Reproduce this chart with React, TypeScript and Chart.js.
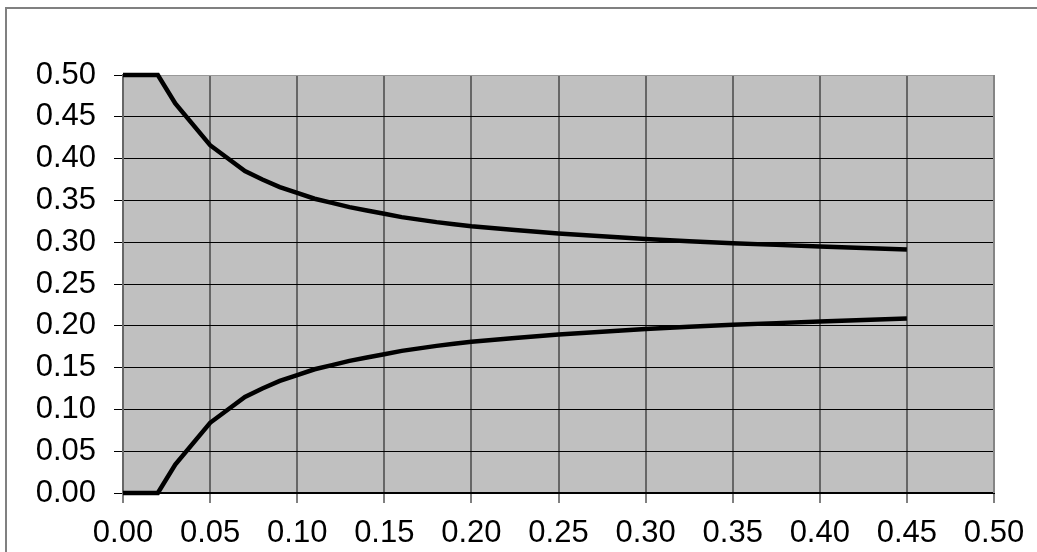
import React, { useEffect, useRef } from 'react';
import { Chart, registerables } from 'chart.js';

Chart.register(...registerables);

const xValues = [0, 0.02, 0.03, 0.05, 0.07, 0.08, 0.09, 0.10, 0.11, 0.12, 0.13, 0.14, 0.15, 0.16, 0.17, 0.18, 0.19, 0.20, 0.225, 0.25, 0.275, 0.30, 0.325, 0.35, 0.375, 0.40, 0.425, 0.45];
const upperValues = [0.5, 0.5, 0.466, 0.416, 0.385, 0.375, 0.366, 0.359, 0.352, 0.347, 0.342, 0.338, 0.334, 0.330, 0.327, 0.324, 0.3215, 0.319, 0.3145, 0.3105, 0.307, 0.3038, 0.301, 0.2988, 0.2968, 0.2948, 0.293, 0.2913];
const lowerValues = [0, 0, 0.034, 0.084, 0.115, 0.125, 0.134, 0.141, 0.148, 0.153, 0.158, 0.162, 0.166, 0.170, 0.173, 0.176, 0.1785, 0.181, 0.1855, 0.1895, 0.193, 0.1962, 0.199, 0.2012, 0.2032, 0.2052, 0.207, 0.2087];
const axisMin = 0;
const axisMax = 0.5;
const axisStep = 0.05;

const frame = {
  id: 'frame',
  beforeDraw(chart: any) {
    const { ctx, chartArea: a } = chart;
    ctx.save();
    ctx.fillStyle = '#C0C0C0';
    ctx.fillRect(a.left, a.top, a.right - a.left, a.bottom - a.top);
    ctx.strokeStyle = '#808080';
    ctx.lineWidth = 2;
    ctx.strokeRect(6, 8, 1100, 600);
    ctx.restore();
  },
  beforeDatasetsDraw(chart: any) {
    const { ctx, chartArea: a } = chart;
    ctx.save();
    ctx.strokeStyle = '#999999';
    ctx.lineWidth = 1;
    ctx.beginPath();
    ctx.moveTo(a.left, a.top + 0.5);
    ctx.lineTo(a.right, a.top + 0.5);
    ctx.stroke();
    ctx.strokeStyle = '#858585';
    ctx.lineWidth = 2;
    ctx.beginPath();
    ctx.moveTo(a.right, a.top);
    ctx.lineTo(a.right, a.bottom);
    ctx.stroke();
    ctx.restore();
  },
};

export default function App() {
  const ref = useRef<HTMLCanvasElement>(null);
  useEffect(() => {
    if (!ref.current) return;
    const font = { family: '"Liberation Sans", Arial, sans-serif', size: 31 };
    const chart = new Chart(ref.current, {
      type: 'line',
      data: {
        datasets: [
          {
            data: xValues.map((x, i) => ({ x, y: upperValues[i] })),
            borderColor: '#000',
            borderWidth: 4.5,
            pointRadius: 0,
            tension: 0,
            clip: false as any,
          },
          {
            data: xValues.map((x, i) => ({ x, y: lowerValues[i] })),
            borderColor: '#000',
            borderWidth: 4.5,
            pointRadius: 0,
            tension: 0,
            clip: false as any,
          },
        ],
      },
      options: {
        animation: false,
        responsive: false,
        layout: { padding: { top: 75, right: 43, left: 0, bottom: 0 } },
        plugins: { legend: { display: false }, tooltip: { enabled: false } },
        scales: {
          x: {
            type: 'linear',
            min: axisMin,
            max: axisMax,
            afterFit: (s: any) => { s.height = 59; },
            ticks: {
              stepSize: axisStep,
              color: '#000',
              font,
              padding: 12,
              maxRotation: 0,
              autoSkip: false,
              callback: (v: any) => Number(v).toFixed(2),
            },
            grid: {
              color: '#666666',
              lineWidth: 2,
              tickColor: '#000',
              tickLength: 10,
              tickWidth: 1,
            },
            border: { color: '#000', width: 2 },
          },
          y: {
            type: 'linear',
            min: axisMin,
            max: axisMax,
            afterFit: (s: any) => { s.width = 123; },
            ticks: {
              stepSize: axisStep,
              color: '#000',
              font,
              padding: 18,
              autoSkip: false,
              callback: (v: any) => Number(v).toFixed(2),
            },
            grid: {
              color: (c: any) => (c.tick && Math.abs(c.tick.value - axisMax) < 1e-9 ? '#999999' : '#000'),
              lineWidth: 1,
              tickColor: '#000',
              tickLength: 9,
            },
            border: { color: '#666666', width: 2 },
          },
        },
      },
      plugins: [frame],
    });
    return () => chart.destroy();
  }, []);
  return (
    <div style={{ position: 'absolute', left: 0, top: 0, width: 1037, height: 552, background: '#fff' }}>
      <canvas ref={ref} width={1037} height={552} />
    </div>
  );
}
